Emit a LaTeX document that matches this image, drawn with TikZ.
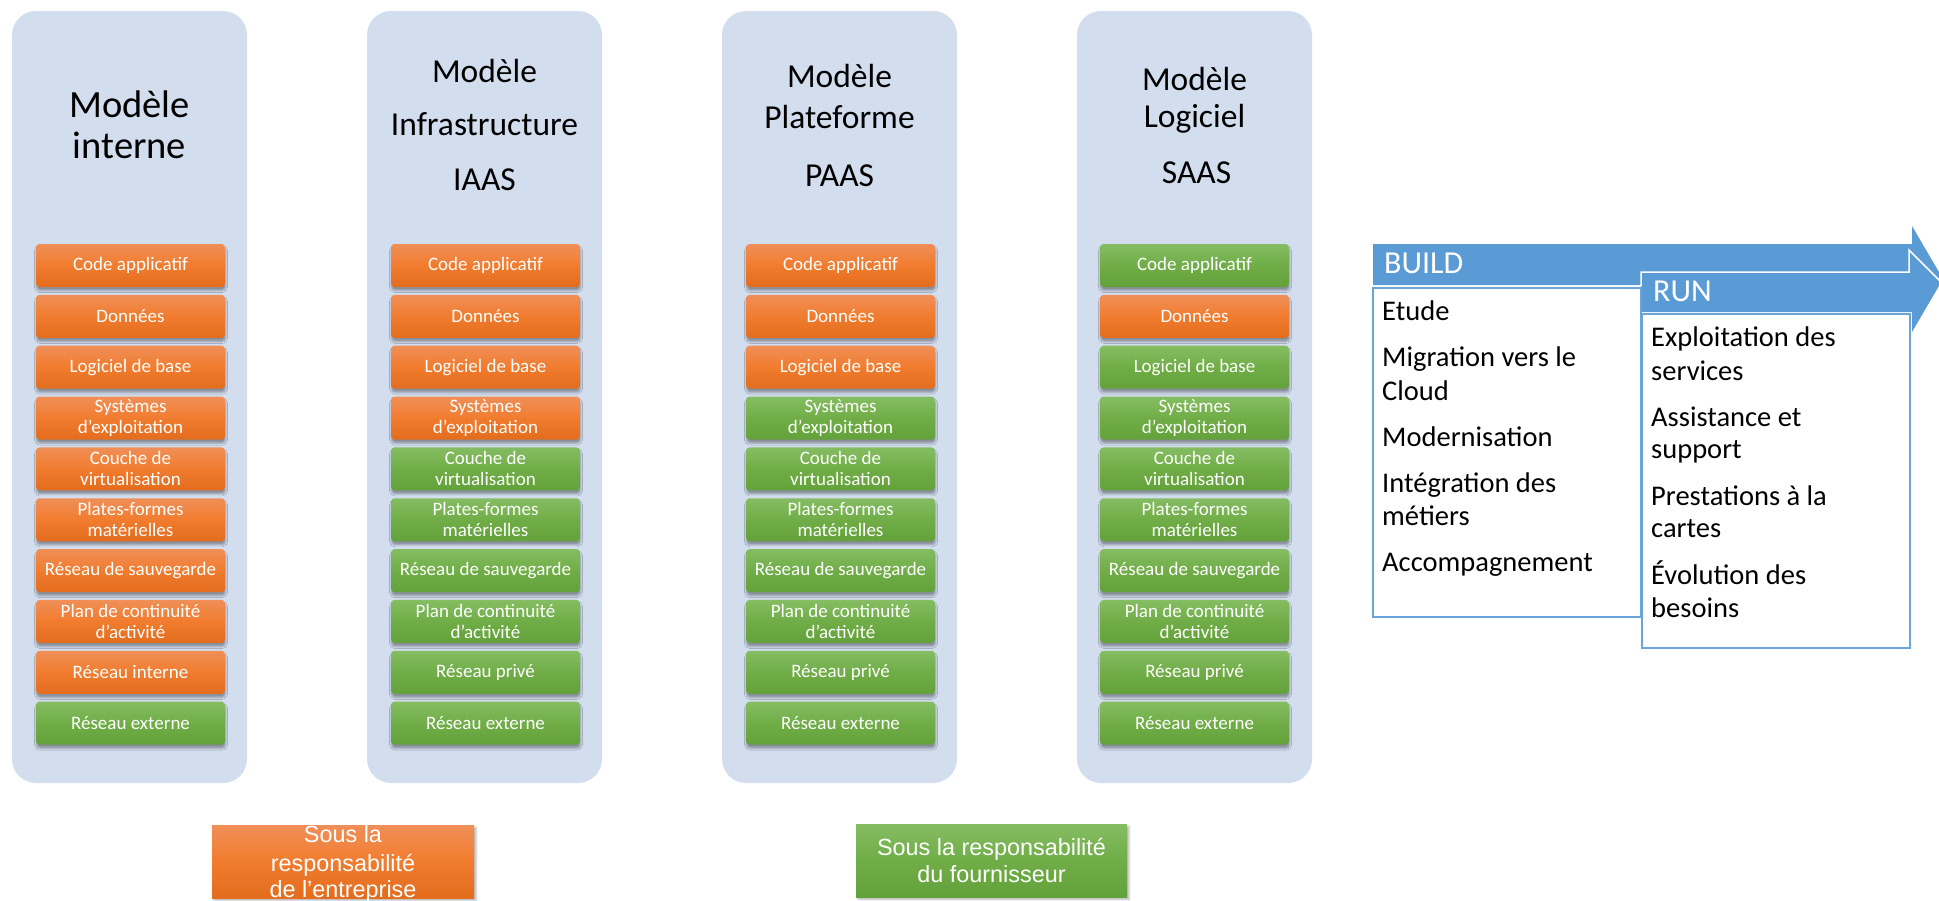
\documentclass[tikz,border=0pt]{standalone}
\usepackage{fontspec}
\setmainfont{Carlito}
\newfontfamily\arialf{Liberation Sans}
\usetikzlibrary{shadows.blur}
\definecolor{panelblue}{HTML}{D2DDEE}
\definecolor{arrowblue}{HTML}{5B9BD5}
\definecolor{lineblue}{HTML}{6AA5DA}
\definecolor{orTop}{HTML}{F08F58}
\definecolor{orMid}{HTML}{F17C2E}
\definecolor{orBot}{HTML}{E36C1D}
\definecolor{grTop}{HTML}{85BD62}
\definecolor{grMid}{HTML}{70AD47}
\definecolor{grBot}{HTML}{63A13A}
\tikzset{
  panelbox/.style={fill=panelblue, rounded corners=24pt, minimum width=235pt, minimum height=772pt, inner sep=0pt},
  layerbox/.style={minimum width=189pt, minimum height=43pt, inner sep=0pt, rounded corners=3.5pt,
    text=white, align=center, font=\fontsize{19}{21}\selectfont,
    blur shadow={shadow xshift=0.5pt, shadow yshift=-3.5pt, shadow blur radius=2pt, shadow opacity=35}},
  ob/.style={layerbox, top color=orTop, bottom color=orBot, middle color=orMid},
  gb/.style={layerbox, top color=grTop, bottom color=grBot, middle color=grMid},
  titleA/.style={anchor=base, inner sep=0pt, font=\fontsize{38.5}{40}\selectfont},
  titleB/.style={anchor=base, inner sep=0pt, font=\fontsize{33.5}{36}\selectfont},
  listbox/.style={draw=lineblue, line width=2pt, fill=white, inner sep=0pt, anchor=north west},
  barlabel/.style={anchor=base west, inner sep=0pt, text=white, font=\fontsize{32}{34}\selectfont},
  listtext/.style={anchor=base west, inner sep=0pt, font=\fontsize{28.5}{33}\selectfont},
  legbox/.style={minimum height=73pt, inner sep=0pt,
    blur shadow={shadow xshift=2pt, shadow yshift=-2.5pt, shadow blur radius=2pt, shadow opacity=30}},
  legtext/.style={anchor=base, inner sep=0pt, text=white, font=\arialf\fontsize{23.4}{27}\selectfont}
}
\begin{document}
\begin{tikzpicture}[x=1pt,y=-1pt]
\useasboundingbox (0,0) rectangle (1939,900);
\clip (0,0) rectangle (1939,900);

% panels
\foreach \k in {0,1,2,3}
  \node[panelbox] (p\k) at ({129.5+355*\k},397) {};

% titles
\node[titleA] (t0a) at (129.5,117) {Modèle};
\node[titleA] (t0b) at (129.5,158) {interne};
\node[titleB] (t1a) at (484.5,82) {Modèle};
\node[titleB] (t1b) at (484.5,135) {Infrastructure};
\node[titleB] (t1c) at (484.5,190) {IAAS};
\node[titleB] (t2a) at (839.5,87) {Modèle};
\node[titleB] (t2b) at (839.5,128) {Plateforme};
\node[titleB] (t2c) at (839.5,186) {PAAS};
\node[titleB] (t3a) at (1194.5,90) {Modèle};
\node[titleB] (t3b) at (1194.5,127) {Logiciel};
\node[titleB] (t3c) at (1196.5,183) {SAAS};

% layer stacks
\foreach \st/\txt [count=\r from 0] in {ob/Code applicatif, ob/Données, ob/Logiciel de base,
    ob/{Systèmes\\d’exploitation}, ob/{Couche de\\virtualisation}, ob/{Plates-formes\\matérielles},
    ob/Réseau de sauvegarde, ob/{Plan de continuité\\d’activité}, ob/Réseau interne, gb/Réseau externe}
  \node[\st] (a\r) at (130.5,{265.5+50.85*\r}) {\txt};
\foreach \st/\txt [count=\r from 0] in {ob/Code applicatif, ob/Données, ob/Logiciel de base,
    ob/{Systèmes\\d’exploitation}, gb/{Couche de\\virtualisation}, gb/{Plates-formes\\matérielles},
    gb/Réseau de sauvegarde, gb/{Plan de continuité\\d’activité}, gb/Réseau privé, gb/Réseau externe}
  \node[\st] (b\r) at (485.5,{265.5+50.85*\r}) {\txt};
\foreach \st/\txt [count=\r from 0] in {ob/Code applicatif, ob/Données, ob/Logiciel de base,
    gb/{Systèmes\\d’exploitation}, gb/{Couche de\\virtualisation}, gb/{Plates-formes\\matérielles},
    gb/Réseau de sauvegarde, gb/{Plan de continuité\\d’activité}, gb/Réseau privé, gb/Réseau externe}
  \node[\st] (c\r) at (840.5,{265.5+50.85*\r}) {\txt};
\foreach \st/\txt [count=\r from 0] in {gb/Code applicatif, ob/Données, gb/Logiciel de base,
    gb/{Systèmes\\d’exploitation}, gb/{Couche de\\virtualisation}, gb/{Plates-formes\\matérielles},
    gb/Réseau de sauvegarde, gb/{Plan de continuité\\d’activité}, gb/Réseau privé, gb/Réseau externe}
  \node[\st] (d\r) at (1194.5,{265.5+50.85*\r}) {\txt};

% build / run arrow
\fill[arrowblue] (1373,244) -- (1912,244) -- (1912,226) -- (1943,279) -- (1912,332)
  -- (1912,312) -- (1641,312) -- (1641,285) -- (1373,285) -- cycle;
\node[listbox, minimum width=268pt, minimum height=329pt] (buildbox) at (1372,287) {};
\node[listbox, minimum width=268pt, minimum height=334pt] (runbox) at (1641,313) {};
\draw[white, line width=1.5pt] (1641,286) -- (1641,272) -- (1909,272) -- (1909,250) -- (1941,282);
\node[barlabel] (buildlbl) at (1384,273) {BUILD};
\node[barlabel] (runlbl) at (1653,301) {RUN};

\foreach \t/\yy [count=\i] in {Etude/320.7, Migration vers le/366.7, Cloud/400, Modernisation/446,
    Intégration des/492, métiers/525, Accompagnement/571}
  \node[listtext] (bl\i) at (1382,\yy) {\t};
\foreach \t/\yy [count=\i] in {Exploitation des/346.7, services/380, Assistance et/426, support/458,
    Prestations à la/505, cartes/537, Évolution des/584, besoins/617}
  \node[listtext] (rl\i) at (1651,\yy) {\t};

% legends
\node[legbox, minimum width=262pt, top color=orTop, bottom color=orBot, middle color=orMid] (legor) at (343,861.5) {};
\node[legtext] (lo1) at (343,842) {Sous la};
\node[legtext] (lo2) at (343,871) {responsabilité};
\node[legtext] (lo3) at (343,897) {de l’entreprise};
\node[legbox, minimum width=271pt, top color=grTop, bottom color=grBot, middle color=grMid] (leggr) at (991.5,860.5) {};
\node[legtext] (lg1) at (991.5,855) {Sous la responsabilité};
\node[legtext] (lg2) at (991.5,882) {du fournisseur};
\end{tikzpicture}
\end{document}
